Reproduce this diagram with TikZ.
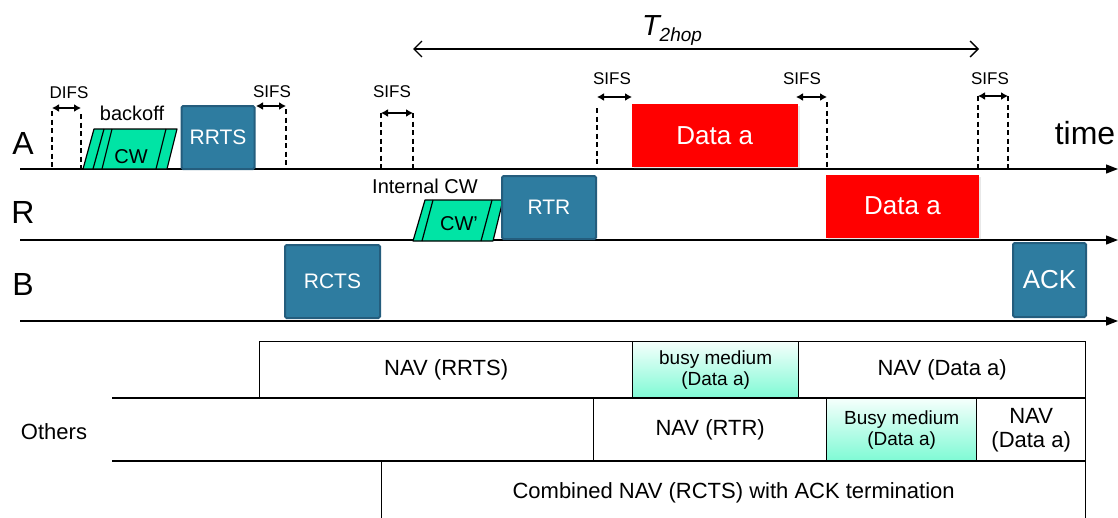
\documentclass[tikz,border=0pt]{standalone}
\usepackage{fontspec}
\setmainfont{Liberation Sans}
\usetikzlibrary{arrows.meta}
\usetikzlibrary{shadows}
\usepackage{xcolor}
\definecolor{pktblue}{RGB}{46,124,160}
\definecolor{pktedge}{RGB}{36,93,125}
\definecolor{cwgreen}{RGB}{0,228,165}
\definecolor{busytop}{RGB}{245,255,252}
\definecolor{busycyan}{RGB}{125,250,212}

\begin{document}
\begin{tikzpicture}[x=1pt, y=-1pt]
        % ================= 样式定义 =================
        \tikzset{
            lane/.style={line width=1.3pt, -{Triangle[length=12pt,width=9pt]}},
            station/.style={font=\fontsize{32}{34}\selectfont, inner sep=0pt},
            pkt/.style={draw=pktedge, line width=2pt, fill=pktblue, rounded corners=1.5pt, text=white, font=\fontsize{21}{24}\selectfont, inner sep=0pt},
            datapkt/.style={fill=red, text=white, font=\fontsize{26}{28}\selectfont, inner sep=0pt, drop shadow={opacity=0.18, shadow xshift=2pt, shadow yshift=-2pt}},
            cwbox/.style={draw=black, line width=1.2pt, fill=cwgreen, line join=round},
            cwline/.style={black, line width=1.2pt},
            gap/.style={black, line width=1.2pt, dash pattern=on 5pt off 3.5pt},
            gaparrow/.style={line width=1.6pt, {Latex[length=7pt,width=8pt]}-{Latex[length=7pt,width=8pt]}},
            tiny/.style={font=\fontsize{17}{19}\selectfont, inner sep=0pt},
            note/.style={font=\fontsize{20}{22}\selectfont, inner sep=0pt},
            cell/.style={draw=black, line width=1.3pt, anchor=north west, inner sep=0pt, align=center, font=\fontsize{22}{24}\selectfont},
            busycell/.style={cell, top color=busytop, bottom color=busycyan, font=\fontsize{19}{21}\selectfont},
            divider/.style={black, line width=1.3pt}
        }

        \useasboundingbox (0,0) rectangle (1118,517);

        % ================= 时间轴 =================
        \coordinate (axA) at (20,169);  \coordinate (axAend) at (1118,169);
        \coordinate (axR) at (20,240);  \coordinate (axRend) at (1118,240);
        \coordinate (axB) at (20,321);  \coordinate (axBend) at (1118,321);
        \draw[lane] (axA) -- (axAend);
        \draw[lane] (axR) -- (axRend);
        \draw[lane] (axB) -- (axBend);

        \node[station] (labA) at (23,143) {A};
        \node[station] (labR) at (23,212) {R};
        \node[station] (labB) at (23,284) {B};
        \node[station] (timelbl) at (1085,133) {time};

        % T_2hop
        \coordinate (hopL) at (413,49);
        \coordinate (hopR) at (979,49);
        \draw[line width=1.3pt, {Straight Barb[length=8pt,width=16pt]}-{Straight Barb[length=8pt,width=16pt]}] (hopL) -- (hopR);
        \node[inner sep=0pt] (thop) at (672,30) {\fontsize{29}{31}\selectfont\itshape T\raisebox{-6pt}{\fontsize{19}{21}\selectfont 2hop}};

        % ================= 节点 A =================
        % backoff 窗口 (平行四边形)
        \draw[cwbox] (83,169) -- (94,129) -- (177,129) -- (167,169) -- cycle;
        \draw[cwline] (93,169) -- (104,129) (102,169) -- (112,129) (156,169) -- (166,129);
        \node[note] (cw) at (131,157) {CW};
        \node[note] (backoff) at (132,113) {backoff};

        \node[pkt, minimum width=73pt, minimum height=63pt] (rrts) at (218,137.5) {RRTS};
        \node[datapkt, minimum width=166pt, minimum height=63pt] (dataA) at (714.7,135.5) {Data a};

        % ================= 节点 R =================
        \draw[cwbox] (413,241) -- (425,200) -- (503,200) -- (493,241) -- cycle;
        \draw[cwline] (422,241) -- (433,200) (481,241) -- (492,200);
        \node[note] (cwp) at (459,224) {CW’};
        \node[note] (intcw) at (425,186) {Internal CW};

        \node[pkt, minimum width=94pt, minimum height=63pt] (rtr) at (549,207.5) {RTR};
        \node[datapkt, minimum width=153pt, minimum height=63pt] (dataR) at (902.5,206) {Data a};

        % ================= 节点 B =================
        \node[pkt, minimum width=95pt, minimum height=73pt] (rcts) at (332.5,281.5) {RCTS};
        \node[pkt, minimum width=73pt, minimum height=74pt, font=\fontsize{26}{28}\selectfont] (ack) at (1049.5,280) {ACK};

        % ================= DIFS / SIFS 间隔 =================
        % DIFS
        \coordinate (difs1) at (52,108);  \coordinate (difs2) at (81,108);
        \draw[gap] ([yshift=-3pt]difs1) -- (difs1 |- axA);
        \draw[gap] ([yshift=-6pt]difs2) -- (difs2 |- axA);
        \draw[gaparrow] (difs1) -- (difs2);
        \node[tiny] (difs) at (69,93) {DIFS};

        % SIFS 1
        \coordinate (s1a) at (256,106);  \coordinate (s1b) at (286,106);
        \draw[gap] ([yshift=-3pt]s1b) -- (s1b |- axA);
        \draw[gaparrow] (s1a) -- (s1b);
        \node[tiny] (sifs1) at (272,92) {SIFS};

        % SIFS 2
        \coordinate (s2a) at (381,113);  \coordinate (s2b) at (413,113);
        \draw[gap] (s2a) -- (s2a |- axA);
        \draw[gap] (s2b) -- (s2b |- axA);
        \draw[gaparrow] (s2a) -- (s2b);
        \node[tiny] (sifs2) at (392,92) {SIFS};

        % SIFS 3
        \coordinate (s3a) at (597,97);  \coordinate (s3b) at (632,97);
        \draw[gap] ([yshift=-11pt]s3a) -- (s3a |- axA);
        \draw[gaparrow] (s3a) -- (s3b);
        \node[tiny] (sifs3) at (612,79) {SIFS};

        % SIFS 4
        \coordinate (s4a) at (796,97);  \coordinate (s4b) at (827,97);
        \draw[gap] ([yshift=-5pt]s4b) -- (s4b |- axA);
        \draw[gaparrow] (s4a) -- (s4b);
        \node[tiny] (sifs4) at (802,79) {SIFS};

        % SIFS 5
        \coordinate (s5a) at (978,96);  \coordinate (s5b) at (1008,96);
        \draw[gap] (s5a) -- (s5a |- axA);
        \draw[gap] (s5b) -- (s5b |- axA);
        \draw[gaparrow] (s5a) -- (s5b);
        \node[tiny] (sifs5) at (990,79) {SIFS};

        % ================= NAV 表格 =================
        \node[note, font=\fontsize{22}{24}\selectfont] (others) at (54,432) {Others};

        \node[cell, minimum width=373pt, minimum height=57pt] (navrrts) at (259,341) {NAV (RRTS)};
        \node[busycell, minimum width=166pt, minimum height=57pt] (busy1) at (632,341) {busy medium\\(Data a)};
        \node[cell, minimum width=287pt, minimum height=57pt] (navdata1) at (798,341) {NAV (Data a)};
        \coordinate (row1l) at (112,398);  \coordinate (row1r) at (1085,398);
        \draw[divider] (row1l) -- (row1r);

        \node[cell, minimum width=233pt, minimum height=63pt] (navrtr) at (593,398) {NAV (RTR)};
        \node[busycell, minimum width=150pt, minimum height=63pt] (busy2) at (826,398) {Busy medium\\(Data a)};
        \node[cell, minimum width=109pt, minimum height=63pt] (navdata2) at (976,398) {NAV\\(Data a)};
        \coordinate (row2l) at (112,461);  \coordinate (row2r) at (1085,461);
        \draw[divider] (row2l) -- (row2r);

        \node[cell, minimum width=704pt, minimum height=62pt] (combined) at (381,461) {Combined NAV (RCTS) with ACK termination};

    \end{tikzpicture}
\end{document}
